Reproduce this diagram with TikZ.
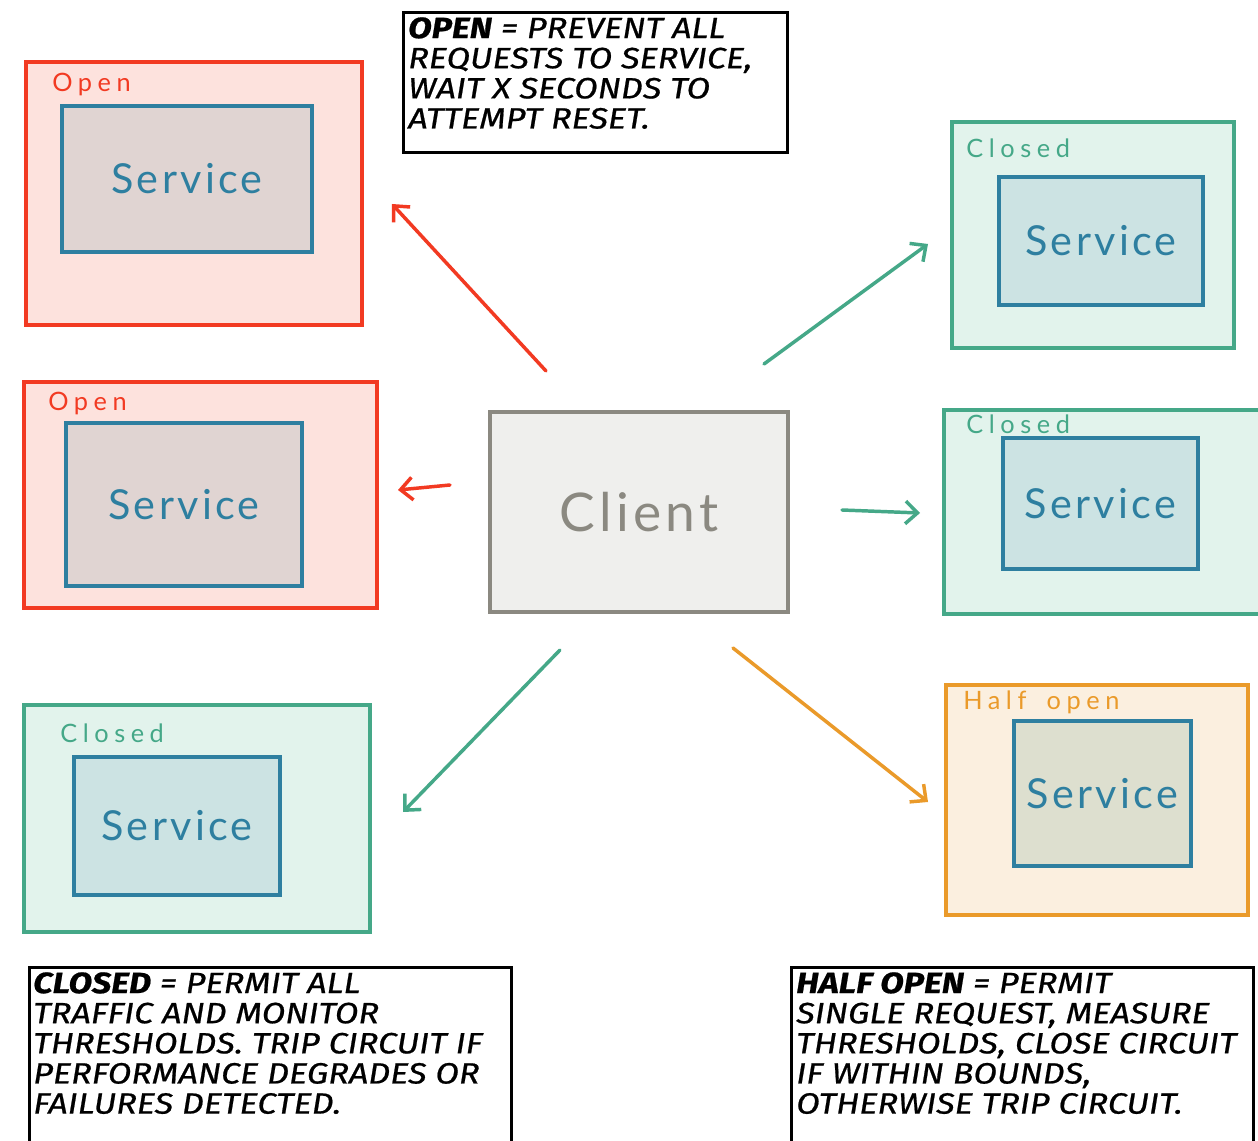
\documentclass[tikz,border=0pt]{standalone}
\usepackage{fontspec}
\setmainfont{Lato}
\newfontfamily\comicfont{Fira Sans}[FakeStretch=1.17, FakeBold=0.7]
\newfontfamily\handfont{Lato}[LetterSpace=8]
\newfontfamily\lblfont{Lato}[LetterSpace=22]
\usetikzlibrary{arrows.meta}
\definecolor{redS}{HTML}{F23A22}
\definecolor{redF}{HTML}{FDE2DD}
\definecolor{greenS}{HTML}{45A888}
\definecolor{greenF}{HTML}{E2F3EC}
\definecolor{orangeS}{HTML}{EA9A2A}
\definecolor{orangeF}{HTML}{FBEFDF}
\definecolor{svcS}{HTML}{2E7FA0}
\definecolor{svcRed}{HTML}{E0D4D2}
\definecolor{svcGreen}{HTML}{CCE3E3}
\definecolor{svcOrange}{HTML}{DDDFCF}
\definecolor{cliS}{HTML}{8B8981}
\definecolor{cliF}{HTML}{EFEFED}
\tikzset{
  sz/.style 2 args={minimum width=#1*0.75pt, minimum height=#2*0.75pt},
  outer/.style={draw, line width=3pt, rectangle, anchor=north west, inner sep=0pt},
  openbox/.style={outer, draw=redS, fill=redF},
  closedbox/.style={outer, draw=greenS, fill=greenF},
  halfbox/.style={outer, draw=orangeS, fill=orangeF},
  svc/.style={draw=svcS, line width=3pt, rectangle, anchor=north west, inner sep=0pt,
    text=svcS, font=\handfont\fontsize{31}{31}\selectfont},
  lbl/.style={anchor=west, inner sep=0pt, font=\lblfont\fontsize{19}{19}\selectfont},
  clientbox/.style={draw=cliS, fill=cliF, line width=3pt, rectangle, anchor=north west,
    inner sep=0pt, text=cliS, font=\handfont\fontsize{40}{40}\selectfont},
  notebox/.style={draw=black, line width=2.2pt, fill=white, rectangle, anchor=north west, inner sep=0pt},
  notetext/.style={anchor=north west, inner sep=0pt, align=left,
    font=\comicfont\itshape\fontsize{22}{22.6}\selectfont},
  arr/.style={line width=2.6pt, line cap=round, -{Straight Barb[length=9pt, width=17pt, line width=2.6pt]}},
}
\begin{document}
\begin{tikzpicture}[x=0.75pt, y=-0.75pt]
\useasboundingbox (0,0) rectangle (1258,1141);
\fill[white] (0,0) rectangle (1258,1141);

% top-left open
\node[openbox, sz={336}{263}] (o1) at (24,60) {};
\node[lbl, text=redS] (o1l) at (52,84) {Open};
\node[svc, fill=svcRed, sz={250}{146}] (s1) at (60,104) {Service};

% mid-left open
\node[openbox, sz={353}{226}] (o2) at (22,380) {};
\node[lbl, text=redS] (o2l) at (48,403) {Open};
\node[svc, fill=svcRed, sz={236}{163}] (s2) at (64,421) {Service};

% bottom-left closed
\node[closedbox, sz={346}{227}] (o3) at (22,703) {};
\node[lbl, text=greenS] (o3l) at (60,733) {Closed};
\node[svc, fill=svcGreen, sz={206}{138}] (s3) at (72,755) {Service};

% top-right closed
\node[closedbox, sz={282}{226}] (o4) at (950,120) {};
\node[lbl, text=greenS] (o4l) at (966,148) {Closed};
\node[svc, fill=svcGreen, sz={204}{128}] (s4) at (997,175) {Service};

% mid-right closed
\node[closedbox, sz={330}{204}] (o5) at (942,408) {};
\node[lbl, text=greenS] (o5l) at (966,424) {Closed};
\node[svc, fill=svcGreen, sz={195}{131}] (s5) at (1001,436) {Service};

% bottom-right half open
\node[halfbox, sz={302}{230}] (o6) at (944,683) {};
\node[lbl, text=orangeS] (o6l) at (963,702) {Half\hspace{0.8em}open};
\node[svc, fill=svcOrange, sz={177}{145}] (s6) at (1012,719) {Service};

% client
\node[clientbox, sz={298}{200}] (cl) at (488,410) {Client};

% notes
\node[notebox, sz={384}{140}] (n1) at (402,11) {};
\node[notetext] (n1t) at (408,17) {\textbf{OPEN} = PREVENT ALL\\REQUESTS TO SERVICE,\\WAIT X SECONDS TO\\ATTEMPT RESET.};
\node[notebox, sz={482}{190}] (n2) at (28,966) {};
\node[notetext] (n2t) at (33,972) {\textbf{CLOSED} = PERMIT ALL\\TRAFFIC AND MONITOR\\THRESHOLDS. TRIP CIRCUIT IF\\PERFORMANCE DEGRADES OR\\FAILURES DETECTED.};
\node[notebox, sz={462}{190}] (n3) at (790,966) {};
\node[notetext] (n3t) at (796,972) {\textbf{HALF OPEN} = PERMIT\\SINGLE REQUEST, MEASURE\\THRESHOLDS, CLOSE CIRCUIT\\IF WITHIN BOUNDS,\\OTHERWISE TRIP CIRCUIT.};

% arrow endpoints
\coordinate (a1s) at (546,371); \coordinate (a1e) at (392,204);
\coordinate (a2s) at (450,485); \coordinate (a2e) at (398,490);
\coordinate (a3s) at (764,364); \coordinate (a3e) at (928,244);
\coordinate (a4s) at (842,510); \coordinate (a4e) at (920,513);
\coordinate (a5s) at (560,650); \coordinate (a5e) at (403,812);
\coordinate (a6s) at (733,648); \coordinate (a6e) at (928,802);

\draw[arr, redS] (a1s) -- (a1e);
\draw[arr, redS] (a2s) -- (a2e);
\draw[arr, greenS] (a3s) -- (a3e);
\draw[arr, greenS] (a4s) -- (a4e);
\draw[arr, greenS] (a5s) -- (a5e);
\draw[arr, orangeS] (a6s) -- (a6e);
\end{tikzpicture}
\end{document}
